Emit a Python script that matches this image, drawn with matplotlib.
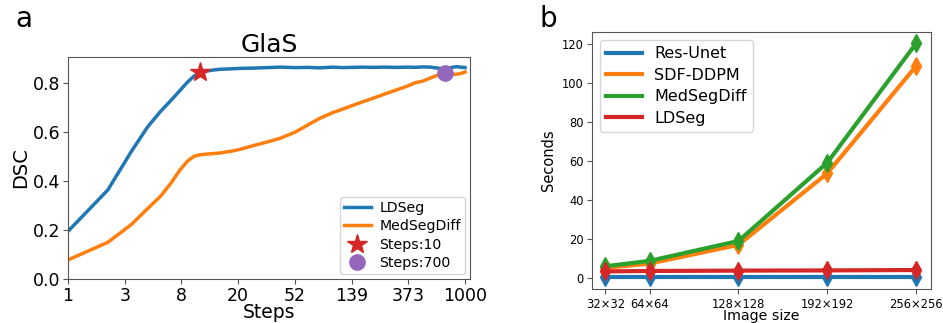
import matplotlib
matplotlib.use("Agg")
import matplotlib.pyplot as plt
import numpy as np

# ---- panel a data ----
steps = [1, 2, 3, 4, 5, 6, 7, 8, 9, 10, 12, 14, 17, 20, 25, 32, 40, 52, 65, 80,
         100, 120, 139, 170, 200, 250, 300, 373, 420, 480, 550, 620, 700, 780,
         860, 930, 1000]
ldseg_dsc = [0.195, 0.364, 0.52, 0.622, 0.685, 0.73, 0.77, 0.805, 0.83, 0.845,
             0.853, 0.857, 0.859, 0.861, 0.862, 0.864, 0.866, 0.864, 0.865, 0.863,
             0.866, 0.864, 0.865, 0.866, 0.865, 0.866, 0.865, 0.866, 0.865, 0.867,
             0.866, 0.862, 0.858, 0.864, 0.868, 0.866, 0.864]
medseg_dsc = [0.078, 0.150, 0.222, 0.288, 0.338, 0.392, 0.445, 0.482, 0.502, 0.508,
              0.512, 0.515, 0.522, 0.530, 0.545, 0.560, 0.575, 0.600, 0.630, 0.657,
              0.680, 0.695, 0.708, 0.725, 0.738, 0.757, 0.772, 0.790, 0.802, 0.809,
              0.822, 0.833, 0.838, 0.836, 0.837, 0.840, 0.846]
star_step, star_val = 10, 0.845
circ_step, circ_val = 700, 0.84
xtick_labels_a = ["1", "3", "8", "20", "52", "139", "373", "1000"]

# ---- panel b data ----
sizes = [32, 64, 128, 192, 256]
size_labels = ["32×32", "64×64", "128×128", "192×192", "256×256"]
resunet = [0.1, 0.1, 0.1, 0.1, 0.1]
sdfddpm = [5.0, 7.2, 16.8, 53.5, 108.6]
medsegdiff = [5.8, 8.6, 18.8, 59.0, 120.2]
ldseg_t = [3.2, 3.4, 3.6, 3.7, 3.9]

fig = plt.figure(figsize=(9.43, 3.23), dpi=100)
spine_c = "#555555"

# Panel a
ax1 = fig.add_axes([0.0721, 0.1362, 0.4263, 0.687])
ax1.plot(steps, ldseg_dsc, color="tab:blue", lw=2.5, label="LDSeg")
ax1.plot(steps, medseg_dsc, color="tab:orange", lw=2.5, label="MedSegDiff")
ax1.plot([star_step], [star_val], "*", color="tab:red", ms=15, lw=0, label="Steps:10")
ax1.plot([circ_step], [circ_val], "o", color="tab:purple", ms=11, lw=0, label="Steps:700")
ax1.set_xscale("log")
ticks = 10 ** (3 * np.arange(8) / 7)
ax1.set_xticks(ticks)
ax1.set_xticklabels(xtick_labels_a)
ax1.minorticks_off()
ax1.set_xlim(1, 1090)
ax1.set_ylim(0, 0.907)
ax1.set_yticks([0.0, 0.2, 0.4, 0.6, 0.8])
ax1.tick_params(labelsize=12.5, color=spine_c, pad=2)
ax1.set_xlabel("Steps", fontsize=13.5, labelpad=-1)
ax1.set_ylabel("DSC", fontsize=14, labelpad=2)
ax1.set_title("GlaS", fontsize=18, pad=4)
for s in ax1.spines.values():
    s.set_color(spine_c)
ax1.legend(loc="lower right", fontsize=10.2, handlelength=1.9, handletextpad=0.6,
           borderpad=0.3, labelspacing=0.3, borderaxespad=0.35)

# Panel b
ax2 = fig.add_axes([0.6278, 0.1043, 0.3592, 0.7966])
ax2.plot(sizes, resunet, color="tab:blue", lw=3, marker="d", ms=9, label="Res-Unet")
ax2.plot(sizes, sdfddpm, color="tab:orange", lw=3, marker="d", ms=9, label="SDF-DDPM")
ax2.plot(sizes, medsegdiff, color="tab:green", lw=3, marker="d", ms=9, label="MedSegDiff")
ax2.plot(sizes, ldseg_t, color="tab:red", lw=3, marker="d", ms=9, label="LDSeg")
ax2.set_xticks(sizes)
ax2.set_xticklabels(size_labels)
ax2.set_yticks([0, 20, 40, 60, 80, 100, 120])
ax2.set_xlim(22.5, 266.5)
ax2.set_ylim(-6, 126)
ax2.tick_params(labelsize=8.3, color=spine_c, pad=2.5)
ax2.set_xlabel("Image size", fontsize=10.2, labelpad=-1)
ax2.set_ylabel("Seconds", fontsize=10.5, labelpad=4)
for s in ax2.spines.values():
    s.set_color(spine_c)
leg_handles = [plt.Line2D([], [], color=c, lw=3) for c in
               ["tab:blue", "tab:orange", "tab:green", "tab:red"]]
ax2.legend(leg_handles, ["Res-Unet", "SDF-DDPM", "MedSegDiff", "LDSeg"],
           loc="upper left", fontsize=11.5, handlelength=2.25, handletextpad=0.75,
           labelspacing=0.4, borderpad=0.4, borderaxespad=0.5)

fig.text(0.016, 0.94, "a", fontsize=20, va="center", ha="left")
fig.text(0.572, 0.94, "b", fontsize=20, va="center", ha="left")

fig.savefig("out.png", dpi=100)
